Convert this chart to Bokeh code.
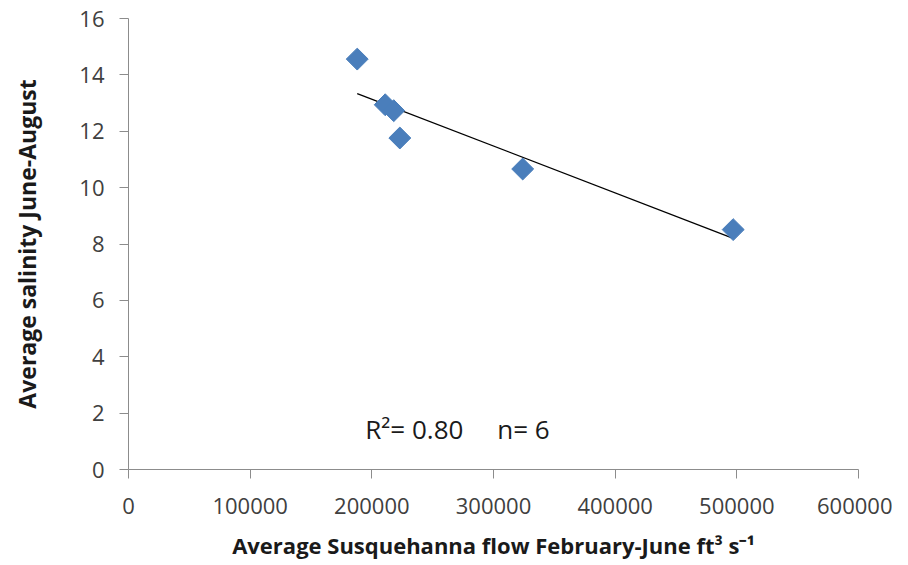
import numpy as np
from bokeh.plotting import figure
from bokeh.models import Range1d, FixedTicker, NumeralTickFormatter, Label
from bokeh.embed import file_html
from bokeh.resources import INLINE

flow = [188000, 211000, 218000, 223000, 324000, 497000]
salinity = [14.56, 12.94, 12.73, 11.76, 10.66, 8.51]
x_ticks = [0, 100000, 200000, 300000, 400000, 500000, 600000]
y_ticks = [0, 2, 4, 6, 8, 10, 12, 14, 16]
r2_text = "R\u00b2= 0.80"
n_text = "n= 6"
x_title = "Average Susquehanna flow February-June ft\u00b3 s\u207b\u00b9"
y_title = "Average salinity June-August"

FONT = "Open Sans"
AXIS_COLOR = "#8C8C8C"

p = figure(width=892, height=562, output_backend="svg", toolbar_location=None,
           x_range=Range1d(0, 600000), y_range=Range1d(0, 16),
           min_border_left=128, min_border_right=34, min_border_top=18, min_border_bottom=93)
p.outline_line_color = None
p.xgrid.visible = False
p.ygrid.visible = False
p.background_fill_color = "white"
p.border_fill_color = "white"

for ax in (p.xaxis[0], p.yaxis[0]):
    ax.axis_line_color = AXIS_COLOR
    ax.major_tick_line_color = AXIS_COLOR
    ax.minor_tick_line_color = None
    ax.major_tick_in = 0
    ax.major_tick_out = 9
    ax.major_label_text_font = FONT
    ax.major_label_text_font_size = "22px"
    ax.major_label_text_color = "#404040"
    ax.axis_label_text_font = FONT
    ax.axis_label_text_font_style = "bold"
    ax.axis_label_text_color = "#1a1a1a"

p.xaxis.axis_label_text_font_size = "22px"
p.yaxis.axis_label_text_font_size = "23px"
p.xaxis.ticker = FixedTicker(ticks=x_ticks)
p.yaxis.ticker = FixedTicker(ticks=y_ticks)
p.xaxis.formatter = NumeralTickFormatter(format="0")
p.yaxis.formatter = NumeralTickFormatter(format="0")
p.xaxis.major_label_standoff = 19
p.yaxis.major_label_standoff = 15
p.xaxis.axis_label = x_title
p.yaxis.axis_label = y_title
p.xaxis.axis_label_standoff = 13
p.yaxis.axis_label_standoff = 33

# linear trend line across data range
coef = np.polyfit(flow, salinity, 1)
xs = [min(flow), max(flow)]
ys = [coef[0] * x + coef[1] for x in xs]
p.line(xs, ys, line_color="black", line_width=1.3)

p.scatter(flow, salinity, marker="square", angle=np.pi / 4, size=15.5,
          fill_color="#4A7EBB", line_color="#4A7EBB", line_width=1)

p.add_layout(Label(x=194600, y=1.45, text=r2_text, text_font=FONT,
                   text_font_size="26px", text_color="#1a1a1a", text_baseline="middle"))
p.add_layout(Label(x=303100, y=1.45, text=n_text, text_font=FONT,
                   text_font_size="26px", text_color="#1a1a1a", text_baseline="middle"))

open("out.html", "w").write(file_html(p, INLINE))
